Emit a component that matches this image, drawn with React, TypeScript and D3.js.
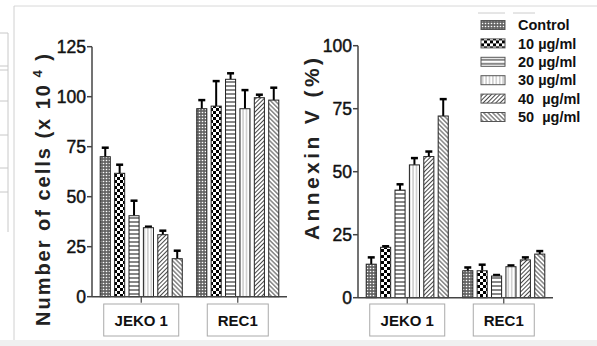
import React from "react";
import * as d3 from "d3";

// groups and doses
const groups = ["JEKO 1", "REC1"];
const doses = ["Control", "10 µg/ml", "20 µg/ml", "30 µg/ml", "40  µg/ml", "50  µg/ml"];

// left panel: number of cells (x 10^4)
const cellsJeko = [70, 61.7, 40.5, 34.5, 31, 19];
const cellsJekoErr = [4.5, 4.3, 7.5, 0.5, 2, 4];
const cellsRec = [94, 95.3, 108.7, 94, 99.5, 98.3];
const cellsRecErr = [4.3, 12.5, 3, 9.3, 1.5, 6.2];
const cellsTicks = [0, 25, 50, 75, 100, 125];

// right panel: annexin V (%)
const annexinJeko = [13.3, 20, 42.7, 52.7, 56, 72.1];
const annexinJekoErr = [2.7, 0.4, 2.3, 2.7, 2, 6.7];
const annexinRec = [10.7, 10.7, 8.6, 12.3, 15, 17.3];
const annexinRecErr = [1.3, 2.4, 0.4, 0.5, 1, 1.2];
const annexinTicks = [0, 25, 50, 75, 100];

const W = 597;
const H = 346;
const patternIds = ["p0", "p1", "p2", "p3", "p4", "p5"];
const boxWidth: Record<string, number> = { "JEKO 1": 75, REC1: 61 };
const tickFont = "'Liberation Sans Narrow', 'Arial Narrow', 'Liberation Sans', Arial, sans-serif";
const font = "'Liberation Sans', Arial, sans-serif";

type PanelProps = {
  x0: number;
  x1: number;
  y0: number;
  yTop: number;
  max: number;
  ticks: number[];
  values: number[][];
  errors: number[][];
};

const Panel = ({ x0, x1, y0, yTop, max, ticks, values, errors }: PanelProps) => {
  const x = d3.scaleBand<string>().domain(groups).range([x0, x1]).paddingInner(0.15).paddingOuter(0.085);
  const xi = d3.scaleBand<string>().domain(doses).range([0, x.bandwidth()]).paddingInner(0.3);
  const y = d3.scaleLinear().domain([0, max]).range([y0, yTop]);

  return (
    <g>
      {/* y axis */}
      <line x1={x0} x2={x0} y1={y(0)} y2={y(max)} stroke="#444" strokeWidth={1.5} />
      {ticks.map((t) => (
        <g key={t} transform={`translate(${x0},${y(t)})`}>
          <line x1={-5} x2={0} stroke="#444" strokeWidth={1.5} />
          <text
            x={-6}
            dy="0.36em"
            textAnchor="end"
            fontFamily={tickFont}
            fontSize={17.5}
            fill="#111"
            stroke="#111"
            strokeWidth={0.45}
          >
            {t}
          </text>
        </g>
      ))}
      {/* bars */}
      {groups.map((g, gi) =>
        doses.map((d, di) => {
          const bx = (x(g) as number) + (xi(d) as number);
          const bw = xi.bandwidth();
          const v = values[gi][di];
          const e = errors[gi][di];
          const cx = bx + bw / 2;
          return (
            <g key={g + d}>
              <line x1={cx} x2={cx} y1={y(v)} y2={y(v + e)} stroke="#000" strokeWidth={2} />
              <line x1={cx - 3.5} x2={cx + 3.5} y1={y(v + e)} y2={y(v + e)} stroke="#000" strokeWidth={2.5} />
              <rect x={bx} y={y(v)} width={bw} height={y(0) - y(v)} fill={`url(#${patternIds[di]})`} stroke="#222" strokeWidth={1} />
            </g>
          );
        })
      )}
      {/* x axis */}
      <line x1={x0} x2={x1} y1={y(0)} y2={y(0)} stroke="#444" strokeWidth={1.5} />
      {groups.map((g) => {
        const cx = (x(g) as number) + x.bandwidth() / 2;
        const bw = boxWidth[g];
        return (
          <g key={g}>
            <line x1={cx} x2={cx} y1={y(0)} y2={y(0) + 6} stroke="#444" strokeWidth={1.2} />
            <rect x={cx - bw / 2} y={304} width={bw} height={32} fill="#fff" stroke="#aaa" strokeWidth={1} />
            <text x={cx} y={326} textAnchor="middle" fontFamily={font} fontWeight="bold" fontSize={15} fill="#111">
              {g}
            </text>
          </g>
        );
      })}
    </g>
  );
};

export default function App() {
  return (
    <svg width={W} height={H} style={{ position: "absolute", left: 0, top: 0, background: "#fff" }}>
      <defs>
        <pattern id="p0" width={3} height={3} patternUnits="userSpaceOnUse">
          <rect width={3} height={3} fill="#666" />
          <circle cx={1.5} cy={1.5} r={0.8} fill="#fff" />
        </pattern>
        <pattern id="p1" width={6} height={6} patternUnits="userSpaceOnUse">
          <rect width={6} height={6} fill="#fff" />
          <rect width={3} height={3} fill="#000" />
          <rect x={3} y={3} width={3} height={3} fill="#000" />
        </pattern>
        <pattern id="p2" width={4} height={4} patternUnits="userSpaceOnUse">
          <rect width={4} height={4} fill="#fff" />
          <line x1={0} x2={4} y1={2} y2={2} stroke="#111" strokeWidth={1} />
        </pattern>
        <pattern id="p3" width={3.4} height={4} patternUnits="userSpaceOnUse">
          <rect width={3.4} height={4} fill="#fff" />
          <line x1={1.7} x2={1.7} y1={0} y2={4} stroke="#888" strokeWidth={0.7} />
        </pattern>
        <pattern id="p4" width={3} height={3} patternUnits="userSpaceOnUse" patternTransform="rotate(45)">
          <rect width={3} height={3} fill="#fff" />
          <line x1={1.5} x2={1.5} y1={0} y2={3} stroke="#333" strokeWidth={0.9} />
        </pattern>
        <pattern id="p5" width={3.2} height={3.2} patternUnits="userSpaceOnUse" patternTransform="rotate(-45)">
          <rect width={3.2} height={3.2} fill="#fff" />
          <line x1={1.6} x2={1.6} y1={0} y2={3.2} stroke="#333" strokeWidth={0.9} />
        </pattern>
      </defs>

      {/* page frame pieces */}
      <line x1={14} x2={W} y1={6} y2={6} stroke="#d8d8d8" />
      <line x1={14} x2={14} y1={6} y2={340} stroke="#d0d0d0" />
      <rect x={0} y={340} width={W} height={6} fill="#f0f0f0" />
      <line x1={8} x2={8} y1={33} y2={232} stroke="#c8c8c8" />
      {[33, 66, 70, 101, 135, 168, 192].map((ly) => (
        <line key={ly} x1={0} x2={8} y1={ly} y2={ly} stroke="#c8c8c8" />
      ))}
      <line x1={478} x2={505} y1={13} y2={13} stroke="#ccc" />
      <line x1={513} x2={535} y1={13} y2={13} stroke="#ccc" />

      <Panel
        x0={92}
        x1={287}
        y0={296.7}
        yTop={46.7}
        max={125}
        ticks={cellsTicks}
        values={[cellsJeko, cellsRec]}
        errors={[cellsJekoErr, cellsRecErr]}
      />
      <Panel
        x0={358}
        x1={553}
        y0={297.7}
        yTop={45.7}
        max={100}
        ticks={annexinTicks}
        values={[annexinJeko, annexinRec]}
        errors={[annexinJekoErr, annexinRecErr]}
      />

      {/* y axis titles */}
      <text
        transform="translate(50,190) rotate(-90)"
        textAnchor="middle"
        fontFamily={font}
        fontWeight="bold"
        fontSize={20}
        fill="#222"
        textLength={272}
        lengthAdjust="spacing"
      >
        Number of cells (x 10
        <tspan dy={-8} fontSize={13}> 4</tspan>
        <tspan dy={8}> )</tspan>
      </text>
      <text
        transform="translate(319,149) rotate(-90)"
        textAnchor="middle"
        fontFamily={font}
        fontWeight="bold"
        fontSize={21}
        fill="#222"
        textLength={182}
        lengthAdjust="spacing"
      >
        Annexin V (%)
      </text>

      {/* legend */}
      {doses.map((d, i) => (
        <g key={d} transform={`translate(481,${25 + i * 18.4})`}>
          <rect x={0} y={-4.5} width={24} height={9} fill={`url(#${patternIds[i]})`} stroke="#555" strokeWidth={1} />
          <text x={37} dy="0.36em" fontFamily={font} fontWeight="bold" fontSize={14.5} fill="#111" style={{ whiteSpace: "pre" }}>
            {d}
          </text>
        </g>
      ))}
    </svg>
  );
}
